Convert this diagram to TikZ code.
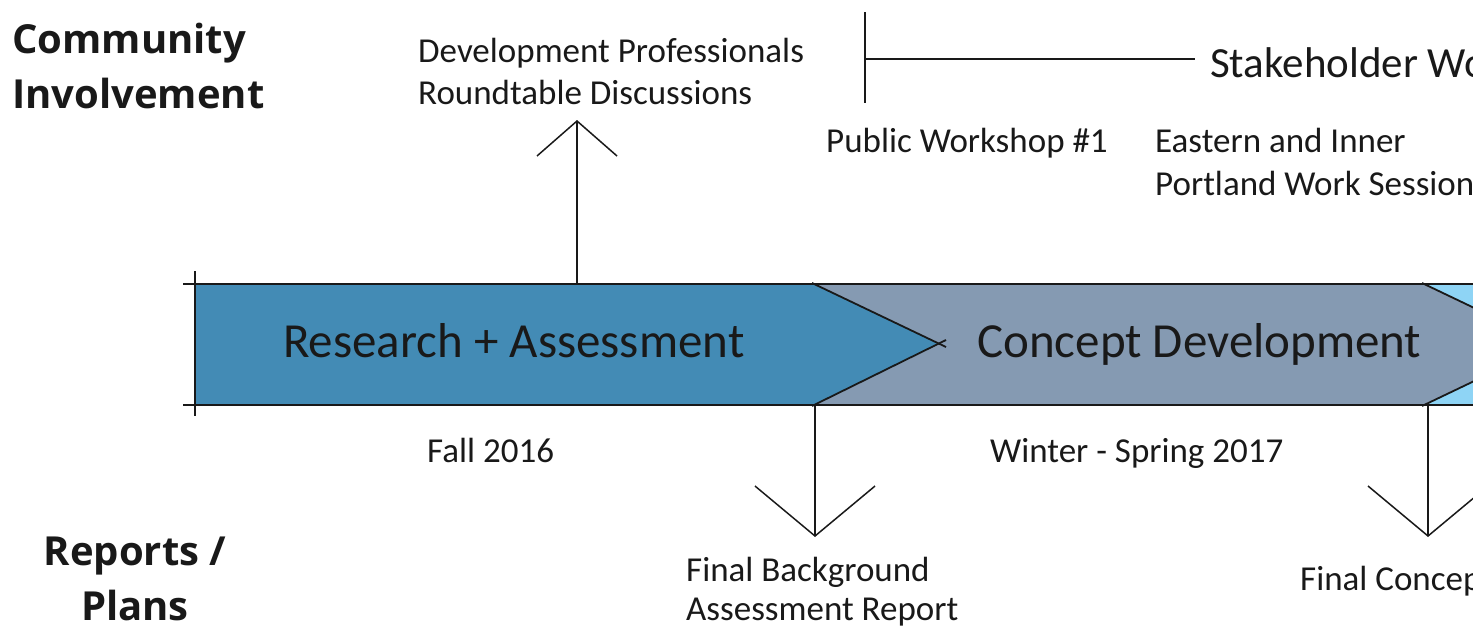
\documentclass[tikz,border=0pt]{standalone}
\usepackage{fontspec}
\setmainfont{Carlito}
\newfontfamily\headfont{Open Sans}
\usetikzlibrary{arrows.meta}
\definecolor{phaseA}{RGB}{67,139,181}
\definecolor{phaseB}{RGB}{133,154,178}
\definecolor{phaseC}{RGB}{142,212,245}
\definecolor{ink}{RGB}{25,25,25}
\tikzset{
  head/.style={inner sep=0pt, align=center, text=ink, font=\headfont\bfseries\fontsize{40}{55}\selectfont},
  small/.style={inner sep=0pt, anchor=base west, align=left, text=ink, font=\fontsize{35}{42}\selectfont},
  phase/.style={inner sep=0pt, anchor=base west, text=ink, font=\fontsize{49}{55}\selectfont},
  bandline/.style={draw=ink, line width=1.8pt},
  thinline/.style={draw=ink, line width=1.5pt},
  upv/.style={thinline, -{Straight Barb[length=35pt,width=80pt,line width=1.5pt]}},
  downv/.style={thinline, -{Straight Barb[length=50pt,width=120pt,line width=1.5pt]}}
}
\begin{document}
\begin{tikzpicture}[x=1pt,y=-1pt]
\useasboundingbox (0,0) rectangle (1473,629);
\clip (0,0) rectangle (1473,629);

% band fills
\fill[phaseA] (195,284) -- (815,284) -- (940,344) -- (815,405) -- (195,405) -- cycle;
\fill[phaseB] (815,284) -- (1425,284) -- (1550,344) -- (1425,405) -- (815,405) -- (940,344) -- cycle;
\fill[phaseC] (1425,284) -- (1600,284) -- (1600,405) -- (1425,405) -- (1550,344) -- cycle;

% band outlines
\draw[bandline] (183,284) -- (1473,284);
\draw[bandline] (183,405) -- (1473,405);
\draw[bandline] (195,271) -- (195,416);
\draw[bandline] (812,283) -- (946,347);
\draw[bandline] (812,406) -- (946,340);
\draw[bandline] (1422,283) -- (1560,349);
\draw[bandline] (1422,406) -- (1560,340);

% phase labels
\node[phase] (ra) at (283,357) {Research + Assessment};
\node[phase] (cd) at (977,357) {Concept Development};

% headings (base anchor = baseline of last line)
\node[head, anchor=base west, align=left] (ci) at (12,108) {Community\\Involvement};
\node[head, anchor=base] (rp) at (135,620) {Reports /\\Plans};

% community items
\node[small] (dev) at (418,104) {Development Professionals\\Roundtable Discussions};
\node[small] (pw) at (826,152) {Public Workshop \#1};
\node[small, font=\fontsize{35}{43}\selectfont] (ei) at (1155,195) {Eastern and Inner\\Portland Work Session};
\node[small, font=\fontsize{43}{50}\selectfont] (sw) at (1210,77) {Stakeholder Work};

% dates
\node[small] (fall) at (427,462) {Fall 2016};
\node[small] (win) at (990,462) {Winter - Spring 2017};

% reports
\node[small, font=\fontsize{35}{39}\selectfont] (fb) at (686,620) {Final Background\\Assessment Report};
\node[small] (fc) at (1300,590) {Final Concept};

% connectors
\coordinate (u1) at (577,284);
\coordinate (d1) at (815,405);
\coordinate (d2) at (1428,405);
\coordinate (bar) at (865,59);
\draw[upv] (u1) -- (577,120);
\draw[downv] (d1) -- (815,537);
\draw[downv] (d2) -- (1428,537);
\draw[thinline] (865,12) -- (865,103);
\draw[thinline, shorten >=15pt] (bar) -- (sw.west |- bar);
\end{tikzpicture}
\end{document}
